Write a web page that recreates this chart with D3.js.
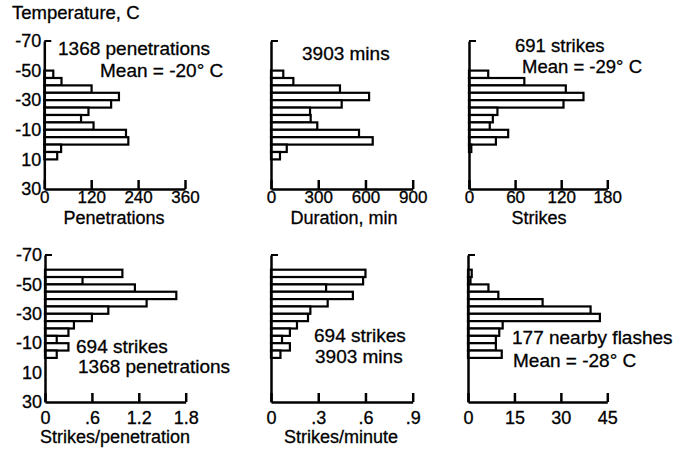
<!DOCTYPE html>
<html><head><meta charset="utf-8">
<script src="https://cdn.jsdelivr.net/npm/d3@7"></script>
<style>
html,body{margin:0;padding:0;background:#fff;}
svg{display:block;}
text{font-family:"Liberation Sans",Arial,Helvetica,sans-serif;fill:#000;stroke:#000;stroke-width:0.3px;}
</style></head><body>
<svg id="chart" width="689" height="449"></svg>
<script>
// ---- data ----
const tempTop = [-50,-45,-40,-35,-30,-25,-20,-15,-10,-5,0,5];      // bin lower edges, top row
const tempBottom = [-60,-55,-50,-45,-40,-35,-30,-25,-20,-15,-10,-5]; // bin lower edges, bottom row
const binWidth = 5;
const penetrations = [23,44,121,191,171,113,94,126,209,215,43,33];
const durationMin = [78,142,438,623,449,248,252,294,559,646,100,57];
const strikes = [25,72,126,149,123,37,31,27,51,35,3,0];
const strikesPerPenetration = [0.99,0.48,1.15,1.68,1.30,0.81,0.60,0.37,0.30,0.15,0.30,0.15];
const strikesPerMinute = [0.60,0.585,0.35,0.52,0.36,0.25,0.235,0.165,0.12,0.07,0.12,0.06];
const nearbyFlashes = [1.2,0.8,6.6,9.8,24.1,39.6,42.6,11.2,10.1,9.0,9.0,10.9];
const yTicks = [-70,-50,-30,-10,10,30];
const ticksPen = [0,120,240,360], labelsPen = ["0","120","240","360"];
const ticksDur = [0,300,600,900], labelsDur = ["0","300","600","900"];
const ticksStr = [0,60,120,180], labelsStr = ["0","60","120","180"];
const ticksSPP = [0,0.6,1.2,1.8], labelsSPP = ["0",".6","1.2","1.8"];
const ticksSPM = [0,0.3,0.6,0.9], labelsSPM = ["0",".3",".6",".9"];
const ticksNF = [0,15,30,45], labelsNF = ["0","15","30","45"];

// ---- layout ----
const svg = d3.select("#chart");
const rows = [{y0:41, y1:189, pad:2, tickFont:17, titleY:224}, {y0:255, y1:402, pad:9, tickFont:18, titleY:443}];
const panels = [
  {row:0, temps:tempTop, values:penetrations, ticks:ticksPen, labels:labelsPen, x0:44.3, x1:185, yLabels:true,
   title:"Penetrations", titleX:114, notes:[["1368 penetrations",58,55,19],["Mean = -20° C",100,77,19]]},
  {row:0, temps:tempTop, values:durationMin, ticks:ticksDur, labels:labelsDur, x0:271, x1:412.7, yLabels:false,
   title:"Duration, min", titleX:344, notes:[["3903 mins",302,60,19]]},
  {row:0, temps:tempTop, values:strikes, ticks:ticksStr, labels:labelsStr, x0:469, x1:607.3, yLabels:false,
   title:"Strikes", titleX:539, notes:[["691 strikes",515,52,18.5],["Mean = -29° C",522,73,18.5]]},
  {row:1, temps:tempBottom, values:strikesPerPenetration, ticks:ticksSPP, labels:labelsSPP, x0:45, x1:185.7, yLabels:true,
   title:"Strikes/penetration", titleX:115, notes:[["694 strikes",76,353,19],["1368 penetrations",78,373,19]]},
  {row:1, temps:tempBottom, values:strikesPerMinute, ticks:ticksSPM, labels:labelsSPM, x0:271, x1:412.7, yLabels:false,
   title:"Strikes/minute", titleX:341, notes:[["694 strikes",314,342,19],["3903 mins",315,363,19]]},
  {row:1, temps:tempBottom, values:nearbyFlashes, ticks:ticksNF, labels:labelsNF, x0:468, x1:607.3, yLabels:false,
   title:null, notes:[["177 nearby flashes",512,344,19],["Mean = -28° C",513,367,19]]}
];

svg.append("text").attr("x",12).attr("y",19).style("font-size","18.5px").text("Temperature, C");

panels.forEach(p => {
  const r = rows[p.row];
  const xMax = p.ticks[p.ticks.length-1];
  const x = d3.scaleLinear().domain([0,xMax]).range([p.x0,p.x1]);
  const y = d3.scaleLinear().domain([-70,30]).range([r.y0,r.y1]);
  const g = svg.append("g");

  // bars
  g.selectAll("rect").data(p.values.map((v,i)=>({v, t:p.temps[i]})).filter(d=>d.v>0))
    .enter().append("rect")
    .attr("x", x(0))
    .attr("y", d => y(d.t))
    .attr("width", d => x(d.v)-x(0))
    .attr("height", d => y(d.t+binWidth)-y(d.t))
    .attr("fill","#fff").attr("stroke","#000").attr("stroke-width",2.2);

  // x axis
  const xa = g.append("g").attr("transform",`translate(0,${y(30)})`)
    .call(d3.axisBottom(x).tickValues(p.ticks).tickFormat((d,i)=>p.labels[i])
      .tickSizeInner(-9).tickSizeOuter(0).tickPadding(r.pad));
  xa.selectAll("path,line").attr("stroke","#000").attr("stroke-width",2.5);
  xa.selectAll("text").style("font-size",r.tickFont+"px").attr("fill","#000");
  xa.attr("font-family",null);

  // y axis
  const ya = g.append("g").attr("transform",`translate(${x(0)},0)`)
    .call(d3.axisLeft(y).tickValues(yTicks).tickFormat(p.yLabels ? (d=>d) : (()=> ""))
      .tickSize(0).tickPadding(3));
  ya.selectAll("path").attr("stroke","#000").attr("stroke-width",2.5);
  ya.selectAll("text").style("font-size","18px").attr("fill","#000");
  ya.attr("font-family",null);
  // top tick pointing inward
  g.append("line").attr("x1",x(0)).attr("x2",x(0)+7).attr("y1",y(-70)).attr("y2",y(-70))
    .attr("stroke","#000").attr("stroke-width",2);

  if (p.title) {
    g.append("text").attr("x",p.titleX).attr("y",r.titleY).attr("text-anchor","middle")
      .style("font-size","18px").text(p.title);
  }
  p.notes.forEach(n => {
    g.append("text").attr("x",n[1]).attr("y",n[2]).style("font-size",n[3]+"px").text(n[0]);
  });
});
</script>
</body></html>
